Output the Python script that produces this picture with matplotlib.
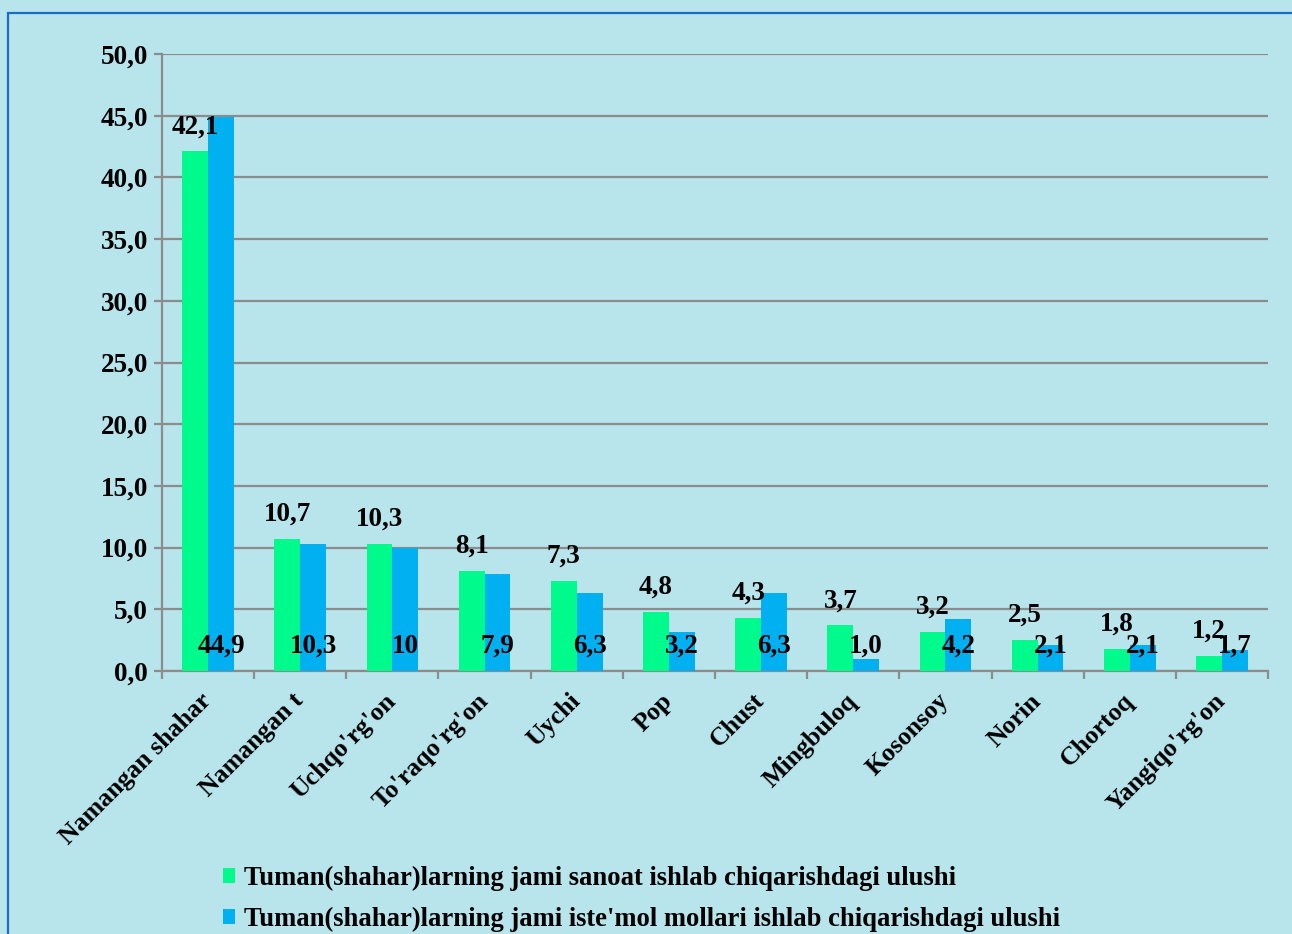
import matplotlib
matplotlib.use("Agg")
import matplotlib.pyplot as plt
import numpy as np
from matplotlib.patches import Rectangle, Patch

categories = ["Namangan shahar", "Namangan t", "Uchqo'rg'on", "To'raqo'rg'on", "Uychi",
              "Pop", "Chust", "Mingbuloq", "Kosonsoy", "Norin", "Chortoq", "Yangiqo'rg'on"]
sanoat = [42.1, 10.7, 10.3, 8.1, 7.3, 4.8, 4.3, 3.7, 3.2, 2.5, 1.8, 1.2]
sanoat_labels = ["42,1", "10,7", "10,3", "8,1", "7,3", "4,8", "4,3", "3,7", "3,2", "2,5", "1,8", "1,2"]
istemol = [44.9, 10.3, 10.0, 7.9, 6.3, 3.2, 6.3, 1.0, 4.2, 2.1, 2.1, 1.7]
istemol_labels = ["44,9", "10,3", "10", "7,9", "6,3", "3,2", "6,3", "1,0", "4,2", "2,1", "2,1", "1,7"]
series_names = ["Tuman(shahar)larning jami sanoat ishlab chiqarishdagi ulushi",
                "Tuman(shahar)larning jami iste'mol mollari ishlab chiqarishdagi ulushi"]
yticks = [0, 5, 10, 15, 20, 25, 30, 35, 40, 45, 50]
ytick_labels = ["0,0", "5,0", "10,0", "15,0", "20,0", "25,0", "30,0", "35,0", "40,0", "45,0", "50,0"]

GREEN = "#00FA8C"
BLUE = "#00B0F0"
BG = "#b8e4ec"
GRID = "#8c8c8c"
FONT = "Liberation Serif"
FS = 19.5

plt.rcParams['font.family'] = [FONT, 'DejaVu Serif']
plt.rcParams['font.weight'] = 'bold'

fig = plt.figure(figsize=(12.92, 9.34), dpi=100)
fig.patch.set_facecolor(BG)

ax = fig.add_axes([162/1292, 1-671/934, (1268-162)/1292, (671-54)/934])
ax.set_facecolor("none")

x = np.arange(len(categories))
w = 0.28
ax.bar(x - w/2, sanoat, width=w, color=GREEN, zorder=3)
ax.bar(x + w/2, istemol, width=w, color=BLUE, zorder=3)

ax.set_xlim(-0.5, len(categories) - 0.5)
ax.set_ylim(0, 50)
ax.set_yticks(yticks)
ax.set_yticklabels(ytick_labels, fontsize=FS, fontweight='bold')
ax.yaxis.grid(True, color=GRID, linewidth=1.6, zorder=1)
ax.set_axisbelow(True)

ax.set_xticks(np.arange(len(categories) + 1) - 0.5, minor=False)
ax.set_xticklabels([])
ax.set_xticks(x, minor=True)
ax.set_xticklabels(categories, minor=True, rotation=45, ha='right', va='center',
                   rotation_mode='anchor', fontsize=18.5, fontweight='bold')
ax.tick_params(axis='x', which='minor', length=0, pad=19)
ax.tick_params(axis='x', which='major', length=6, width=1.6, color=GRID)
ax.tick_params(axis='y', length=6, width=1.6, color=GRID, pad=4)

for s in ['top', 'right']:
    ax.spines[s].set_visible(False)
for s in ['left', 'bottom']:
    ax.spines[s].set_color(GRID)
    ax.spines[s].set_linewidth(1.6)

for i, (v, lab) in enumerate(zip(sanoat, sanoat_labels)):
    ax.annotate(lab, (x[i] - w/2, v), xytext=(0, 13), textcoords='offset points',
                ha='center', va='baseline', fontsize=FS, fontweight='bold', zorder=5)
for i, lab in enumerate(istemol_labels):
    ax.text(x[i] + w/2, 1.45, lab, ha='center', va='baseline', fontsize=FS,
            fontweight='bold', zorder=5)

handles = [Patch(facecolor=GREEN), Patch(facecolor=BLUE)]
leg = fig.legend(handles, series_names, loc='upper left',
                 bbox_to_anchor=(212/1292, 1-855/934), frameon=False,
                 prop={'family': FONT, 'weight': 'bold', 'size': 19.2},
                 handlelength=0.45, handleheight=0.5, handletextpad=0.35,
                 labelspacing=0.6, borderaxespad=0)

fig.patches.append(Rectangle((8/1292, -0.1), 1.2, 1 - 13/934 + 0.1,
                             transform=fig.transFigure, fill=False,
                             edgecolor="#1a6dc4", linewidth=1.6, zorder=0))

fig.savefig("out.png", dpi=100, facecolor=BG)
